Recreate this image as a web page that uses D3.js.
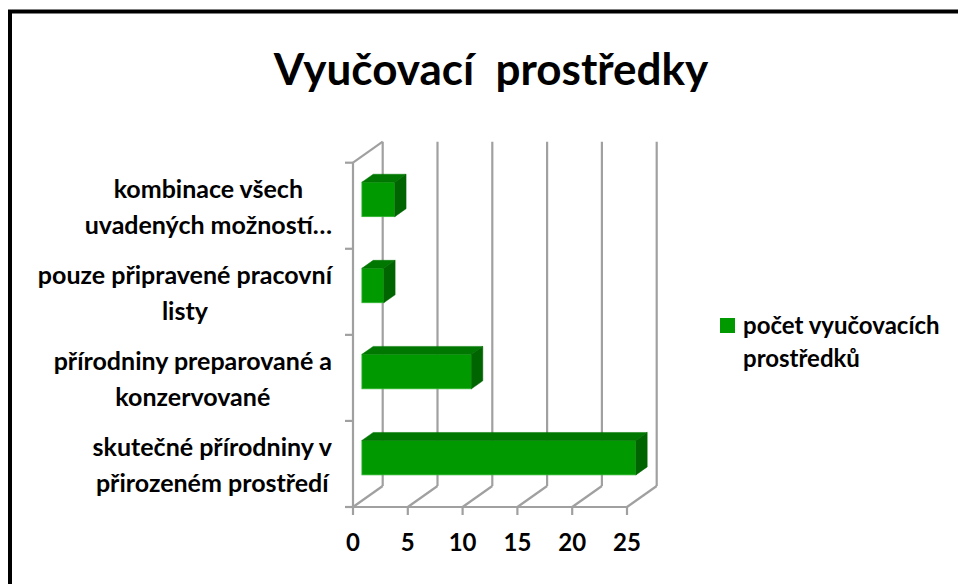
<!DOCTYPE html>
<html>
<head>
<meta charset="utf-8">
<script src="https://cdn.jsdelivr.net/npm/d3@7"></script>
<style>
  body { margin: 0; background: #fff; }
  svg { display: block; font-family: Lato, "Open Sans", sans-serif; font-weight: bold; }
</style>
</head>
<body>
<div id="chart"></div>
<script>
// Data (bottom to top, as in the original sheet)
const categories = [
  "skutečné přírodniny v přirozeném prostředí",
  "přírodniny preparované a konzervované",
  "pouze připravené pracovní listy",
  "kombinace všech uvadených možností…"
];
const labelLines = [
  ["skutečné přírodniny v", "přirozeném prostředí"],
  ["přírodniny preparované a", "konzervované"],
  ["pouze připravené pracovní", "listy"],
  ["kombinace všech", "uvadených možností…"]
];
const values = [25, 10, 2, 3];
const xTicks = [0, 5, 10, 15, 20, 25];
const seriesName = ["počet vyučovacích", "prostředků"];
const title = "Vyučovací\u00a0 prostředky";

// Layout
const WIDTH = 958;
const HEIGHT = 584;
const LEFT = 353, RIGHT = 627, TOP = 162.7, BOTTOM = 507;
const DX = 29.7, DY = -21; // depth of the 3D box
const F0 = 0.3, F1 = 0.68; // bar depth inside the box
const GRID = "#a0a0a0";

var svg = d3
  .select("#chart")
  .append("svg")
  .attr("width", WIDTH)
  .attr("height", HEIGHT);

// Border
svg
  .append("rect")
  .attr("x", 10)
  .attr("y", 11.5)
  .attr("width", WIDTH + 20)
  .attr("height", HEIGHT + 20)
  .attr("fill", "none")
  .attr("stroke", "#000")
  .attr("stroke-width", 4);

// Title
svg
  .append("text")
  .attr("x", 491)
  .attr("y", 85)
  .attr("text-anchor", "middle")
  .attr("font-size", 44)
  .text(title);

// Scales
const xScale = d3.scaleLinear().domain([0, 25]).range([LEFT, RIGHT]);
const yZone = d3.scaleBand().domain(categories).range([BOTTOM, TOP]);
const yBar = d3
  .scaleBand()
  .domain(categories)
  .range([BOTTOM, TOP])
  .paddingInner(0.6)
  .paddingOuter(0.3);

const grid = svg.append("g").attr("stroke", GRID).attr("stroke-width", 2.2).attr("fill", "none");

// Back wall verticals
grid
  .selectAll("line.back")
  .data(xTicks)
  .enter()
  .append("line")
  .attr("x1", (d) => xScale(d) + DX)
  .attr("x2", (d) => xScale(d) + DX)
  .attr("y1", TOP + DY)
  .attr("y2", BOTTOM + DY);

// Floor diagonals
grid
  .selectAll("line.floor")
  .data(xTicks)
  .enter()
  .append("line")
  .attr("x1", (d) => xScale(d))
  .attr("x2", (d) => xScale(d) + DX)
  .attr("y1", BOTTOM)
  .attr("y2", BOTTOM + DY);

// Front bottom edge and left wall
grid.append("line").attr("x1", LEFT).attr("x2", RIGHT).attr("y1", BOTTOM).attr("y2", BOTTOM);
grid.append("line").attr("x1", LEFT).attr("x2", LEFT).attr("y1", TOP).attr("y2", BOTTOM);
grid.append("line").attr("x1", LEFT).attr("x2", LEFT + DX).attr("y1", TOP).attr("y2", TOP + DY);

// X ticks
grid
  .selectAll("line.xtick")
  .data(xTicks)
  .enter()
  .append("line")
  .attr("x1", (d) => xScale(d))
  .attr("x2", (d) => xScale(d))
  .attr("y1", BOTTOM)
  .attr("y2", BOTTOM + 8);

// Category ticks (zone boundaries)
const bounds = categories.map((c) => yZone(c)).concat([BOTTOM]);
grid
  .selectAll("line.ytick")
  .data(bounds)
  .enter()
  .append("line")
  .attr("x1", LEFT - 8)
  .attr("x2", LEFT)
  .attr("y1", (d) => d)
  .attr("y2", (d) => d);

// X tick labels
svg
  .selectAll("text.xlab")
  .data(xTicks)
  .enter()
  .append("text")
  .attr("class", "xlab")
  .attr("x", (d) => xScale(d))
  .attr("y", 551)
  .attr("text-anchor", "middle")
  .attr("font-size", 24)
  .text((d) => d);

// Category labels
const labels = svg
  .selectAll("g.cat")
  .data(categories)
  .enter()
  .append("g")
  .attr("class", "cat");

labels.each(function (c, i) {
  const g = d3.select(this);
  const cy = yZone(c) + yZone.bandwidth() / 2;
  const lines = labelLines[i];
  const texts = lines.map((l, j) =>
    g
      .append("text")
      .attr("y", cy + 10.5 + (j - (lines.length - 1) / 2) * 36)
      .attr("text-anchor", "middle")
      .attr("font-size", 25)
      .text(l)
  );
  const maxW = d3.max(texts, (t) => t.node().getComputedTextLength());
  texts.forEach((t) => t.attr("x", 332 - maxW / 2));
});

// Bars
const bars = svg
  .selectAll("g.bar")
  .data(values)
  .enter()
  .append("g")
  .attr("class", "bar");

bars.each(function (v, i) {
  const g = d3.select(this);
  const x0 = xScale(0) + F0 * DX;
  const x1 = xScale(v) + F0 * DX;
  const y0 = yBar(categories[i]) + F0 * DY;
  const h = yBar.bandwidth();
  const ddx = (F1 - F0) * DX;
  const ddy = (F1 - F0) * DY;

  g.append("rect")
    .attr("x", x0)
    .attr("y", y0)
    .attr("width", x1 - x0)
    .attr("height", h)
    .attr("fill", "#009900")
    .attr("stroke", "#2fb52f")
    .attr("stroke-width", 0.8);

  g.append("polygon")
    .attr("points", [[x0, y0], [x0 + ddx, y0 + ddy], [x1 + ddx, y0 + ddy], [x1, y0]].join(" "))
    .attr("fill", "#007700")
    .attr("stroke", "#007700")
    .attr("stroke-width", 0.5);

  g.append("polygon")
    .attr("points", [[x1, y0], [x1 + ddx, y0 + ddy], [x1 + ddx, y0 + h + ddy], [x1, y0 + h]].join(" "))
    .attr("fill", "#006400")
    .attr("stroke", "#006400")
    .attr("stroke-width", 0.5);
});

// Legend
const legend = svg.append("g");
legend
  .append("rect")
  .attr("x", 720)
  .attr("y", 318)
  .attr("width", 15)
  .attr("height", 15)
  .attr("fill", "#009900");

legend
  .selectAll("text")
  .data(seriesName)
  .enter()
  .append("text")
  .attr("x", 743)
  .attr("y", (d, i) => 334 + i * 33)
  .attr("font-size", 24)
  .text((d) => d);
</script>
</body>
</html>
